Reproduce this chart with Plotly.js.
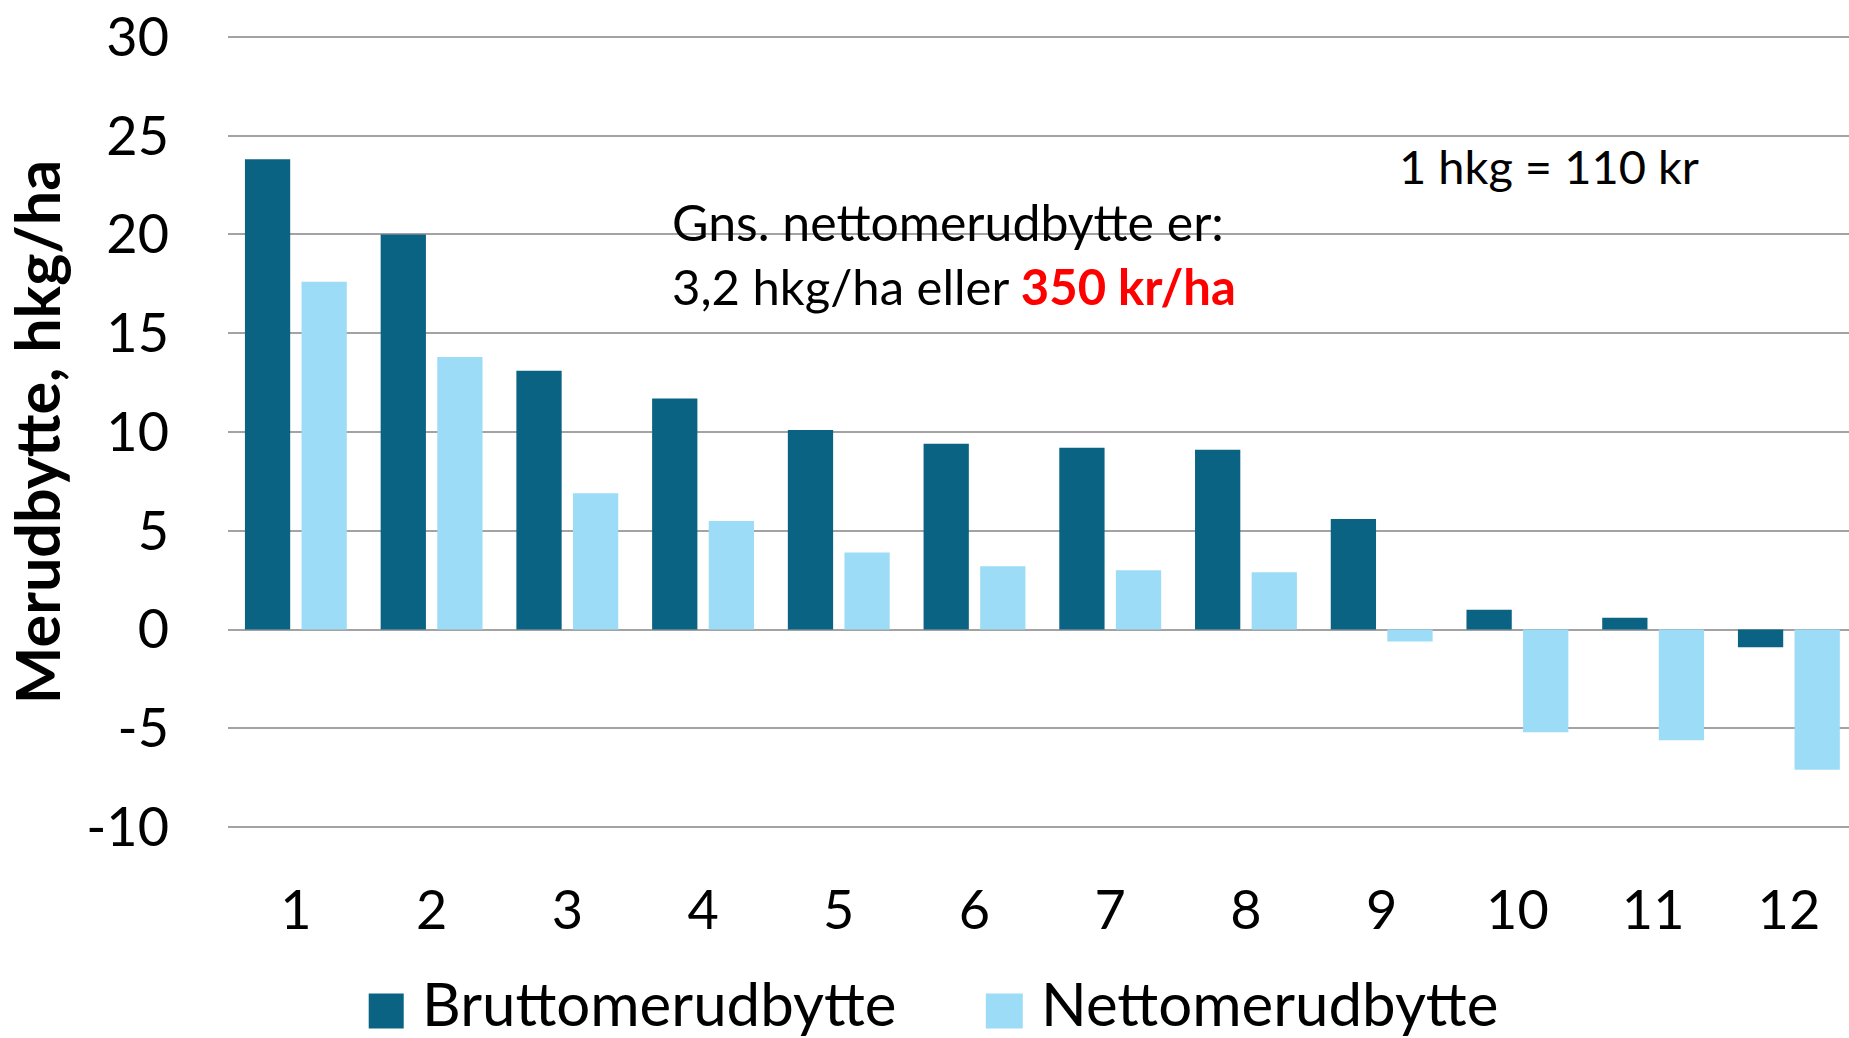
<!DOCTYPE html>
<html>
<head>
<meta charset="utf-8">
<script src="https://cdn.plot.ly/plotly-3.0.1.min.js"></script>
<style>
  html, body { margin: 0; padding: 0; background: #ffffff; }
  #chart { width: 1849px; height: 1038px; }
</style>
</head>
<body>
<div id="chart"></div>
<script>
// ---- data ----
const categories = ['1', '2', '3', '4', '5', '6', '7', '8', '9', '10', '11', '12'];
const bruttoName = 'Bruttomerudbytte';
const nettoName = 'Nettomerudbytte';
const brutto = [23.8, 20.0, 13.1, 11.7, 10.1, 9.4, 9.2, 9.1, 5.6, 1.0, 0.6, -0.9];
const netto = [17.6, 13.8, 6.9, 5.5, 3.9, 3.2, 3.0, 2.9, -0.6, -5.2, -5.6, -7.1];
const yTickVals = [-10, -5, 0, 5, 10, 15, 20, 25, 30];
const yTickText = ['-10', '-5', '0', '5', '10', '15', '20', '25', '30'];
const yTitle = 'Merudbytte, hkg/ha';
const noteLine1 = 'Gns. nettomerudbytte er:';
const noteLine2a = '3,2 hkg/ha eller ';
const noteLine2b = '350 kr/ha';
const noteRate = '1 hkg = 110 kr';

const darkColor = '#0B6384';
const lightColor = '#9DDCF6';
const gridColor = '#A3A3A3';
const FONT = 'Lato, "Open Sans", sans-serif';

const traces = [
  { type: 'bar', name: bruttoName, x: categories, y: brutto,
    marker: { color: darkColor }, showlegend: false, hoverinfo: 'x+y+name' },
  { type: 'bar', name: nettoName, x: categories, y: netto,
    marker: { color: lightColor }, showlegend: false, hoverinfo: 'x+y+name' }
];

const layout = {
  width: 1849, height: 1038,
  margin: { l: 228, r: 0, t: 27, b: 201, pad: 0 },
  paper_bgcolor: '#ffffff', plot_bgcolor: '#ffffff',
  font: { family: FONT, color: '#000000' },
  barmode: 'group', bargap: 0.166, bargroupgap: 0.2,
  showlegend: false,
  xaxis: {
    type: 'category', range: [-0.5, 11.443],
    showgrid: false, zeroline: false, showline: false,
    ticks: '', ticklabelstandoff: 37,
    tickfont: { family: FONT, size: 54, color: '#000000' },
    fixedrange: true
  },
  yaxis: {
    range: [-10.5, 30.5], tickmode: 'array', tickvals: yTickVals, ticktext: yTickText,
    showgrid: true, gridcolor: gridColor, gridwidth: 2,
    zeroline: true, zerolinecolor: gridColor, zerolinewidth: 2,
    showline: false, ticks: '', ticklabelstandoff: 58,
    tickfont: { family: FONT, size: 54, color: '#000000' },
    title: { text: '<b>' + yTitle + '</b>', font: { family: FONT, size: 61, color: '#000000' }, standoff: 11 },
    automargin: false,
    fixedrange: true
  },
  annotations: [
    { xref: 'paper', yref: 'paper', x: 0.2725, y: 0.7590, xanchor: 'left', yanchor: 'middle',
      text: noteLine1, showarrow: false, font: { family: FONT, size: 50, color: '#000000' } },
    { xref: 'paper', yref: 'paper', x: 0.2725, y: 0.6805, xanchor: 'left', yanchor: 'middle',
      text: noteLine2a + '<b><span style="color:#FF0000">' + noteLine2b + '</span></b>', showarrow: false,
      font: { family: FONT, size: 49, color: '#000000' } },
    { xref: 'paper', yref: 'paper', x: 0.7210, y: 0.8280, xanchor: 'left', yanchor: 'middle',
      text: noteRate, showarrow: false, font: { family: FONT, size: 47, color: '#000000' } },
    // legend labels
    { xref: 'paper', yref: 'paper', x: 0.1185, y: -0.2055, xanchor: 'left', yanchor: 'middle',
      text: bruttoName, showarrow: false, font: { family: FONT, size: 60, color: '#000000' } },
    { xref: 'paper', yref: 'paper', x: 0.5005, y: -0.2055, xanchor: 'left', yanchor: 'middle',
      text: nettoName, showarrow: false, font: { family: FONT, size: 60, color: '#000000' } }
  ],
  shapes: [
    // legend swatches
    { type: 'rect', xref: 'paper', yref: 'paper', x0: 0.0868, x1: 0.1084, y0: -0.2365, y1: -0.1933,
      fillcolor: darkColor, line: { width: 0 } },
    { type: 'rect', xref: 'paper', yref: 'paper', x0: 0.4675, x1: 0.4903, y0: -0.2365, y1: -0.1933,
      fillcolor: lightColor, line: { width: 0 } }
  ]
};

Plotly.newPlot('chart', traces, layout, { displayModeBar: false, staticPlot: true });
</script>
</body>
</html>
